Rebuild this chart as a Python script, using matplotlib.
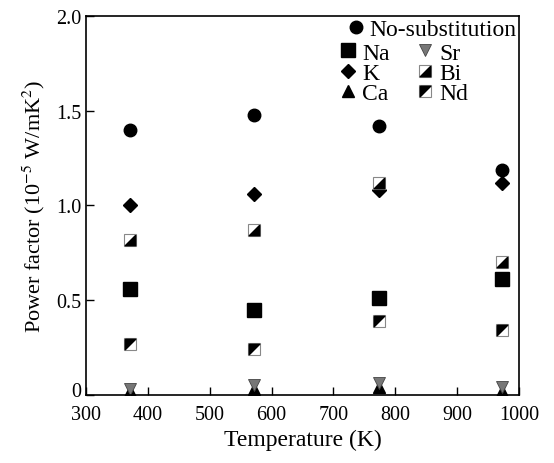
import matplotlib
matplotlib.use("Agg")
import matplotlib.pyplot as plt
import matplotlib.transforms as mtransforms
from matplotlib.legend_handler import HandlerTuple

plt.rcParams['font.family'] = ['Liberation Serif', 'DejaVu Serif']
plt.rcParams['mathtext.fontset'] = 'stix'

temperature = [372, 572, 773, 973]
no_sub = [1.40, 1.48, 1.42, 1.19]
na = [0.56, 0.45, 0.51, 0.61]
k = [1.00, 1.06, 1.08, 1.12]
ca = [0.02, 0.03, 0.04, 0.02]
sr = [0.03, 0.05, 0.06, 0.04]
bi = [0.82, 0.87, 1.12, 0.70]
nd = [0.27, 0.24, 0.39, 0.34]

xticks = [300, 400, 500, 600, 700, 800, 900, 1000]
yticks = [0, 0.5, 1.0, 1.5, 2.0]
yticklabels = ['0', '0.5', '1.0', '1.5', '2.0']

fig = plt.figure(figsize=(5.54, 4.64), dpi=100)
ax = fig.add_axes([0.155, 0.147, 0.782, 0.816])

lower_right = [(1, 1), (1, -1), (-1, -1), (1, 1)]
upper_left = [(-1, 1), (1, 1), (-1, -1), (-1, 1)]

ms = 9
h_ns, = ax.plot(temperature, no_sub, 'o', color='black', ms=ms, ls='none')
h_na, = ax.plot(temperature, na, 's', color='black', ms=ms + 1, ls='none')
h_k, = ax.plot(temperature, k, 'D', color='black', ms=ms - 2, ls='none')
h_ca, = ax.plot(temperature, ca, '^', color='black', ms=ms - 1, ls='none')
h_sr, = ax.plot(temperature, sr, 'v', color='#777777', mec='#444444', mew=0.6, ms=ms - 1, ls='none')
h_bi_bg, = ax.plot(temperature, bi, 's', mfc='white', mec='#888888', mew=0.8, ms=ms - 1, ls='none')
h_bi, = ax.plot(temperature, bi, marker=lower_right, color='black', ms=ms - 1.5, ls='none')
h_nd_bg, = ax.plot(temperature, nd, 's', mfc='white', mec='#888888', mew=0.8, ms=ms - 1, ls='none')
h_nd, = ax.plot(temperature, nd, marker=upper_left, color='black', ms=ms - 1.5, ls='none')

ax.set_xlim(300, 1000)
ax.set_ylim(0, 2.0)
ax.set_xticks(xticks)
ax.set_yticks(yticks)
ax.set_yticklabels(yticklabels)
ax.tick_params(direction='in', length=6, width=1, labelsize=14.5, top=False, right=False)
ax.tick_params(axis='x', pad=7)
for s in ax.spines.values():
    s.set_linewidth(1.2)

# nudge the "0" y tick label up slightly so it clears the "300" label
zero_label = ax.get_yticklabels()[0]
zero_label.set_transform(zero_label.get_transform() +
                         mtransforms.ScaledTranslation(0, 4 / 72, fig.dpi_scale_trans))

ax.set_xlabel('Temperature (K)', fontsize=17, labelpad=4)
ax.set_ylabel('Power factor (10$^{-5}$ W/mK$^{2}$)', fontsize=16, labelpad=6)

leg1 = ax.legend([h_ns], ['No-substitution'], loc='upper right', frameon=False,
                 fontsize=17, handlelength=0.6, handletextpad=0.3,
                 borderaxespad=0.1, borderpad=0.0)
ax.add_artist(leg1)
leg2 = ax.legend([h_na, h_k, h_ca, h_sr, (h_bi_bg, h_bi), (h_nd_bg, h_nd)],
                 ['Na', 'K', 'Ca', 'Sr', 'Bi', 'Nd'],
                 ncol=2, loc='upper left', bbox_to_anchor=(0.562, 0.963),
                 frameon=False, fontsize=17, handlelength=0.6, handletextpad=0.3,
                 columnspacing=1.2, labelspacing=-0.05, borderpad=0.0,
                 handler_map={tuple: HandlerTuple(ndivide=1)})

fig.savefig('out.png', dpi=100)
